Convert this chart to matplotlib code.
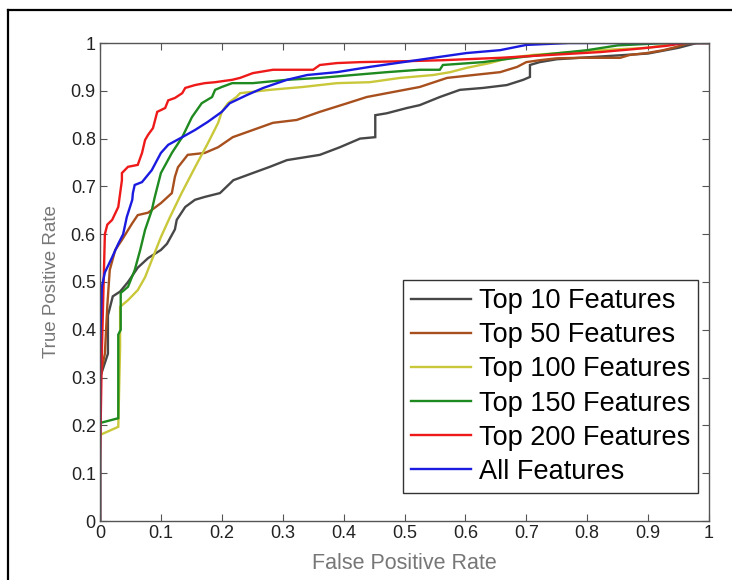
import matplotlib.pyplot as plt
from matplotlib.lines import Line2D

# --- Datos: curvas ROC ---
fpr_top10 = [0, 0, 0.013, 0.013, 0.021, 0.033, 0.046, 0.062, 0.079, 0.10, 0.11, 0.123, 0.126, 0.14,
             0.156, 0.172, 0.197, 0.219, 0.251, 0.279, 0.307, 0.361, 0.394, 0.427, 0.452, 0.452, 0.471,
             0.504, 0.525, 0.558, 0.591, 0.629, 0.668, 0.695, 0.706, 0.706, 0.722, 0.75, 0.8, 0.9,
             0.95, 0.98, 1]
tpr_top10 = [0, 0.3, 0.35, 0.43, 0.47, 0.48, 0.50, 0.53, 0.55, 0.567, 0.58, 0.61, 0.63, 0.657,
             0.672, 0.678, 0.686, 0.713, 0.728, 0.741, 0.755, 0.766, 0.782, 0.80, 0.803, 0.849, 0.853,
             0.864, 0.87, 0.887, 0.902, 0.906, 0.912, 0.923, 0.929, 0.954, 0.96, 0.966, 0.97, 0.978,
             0.99, 1, 1]

fpr_top50 = [0, 0, 0.008, 0.012, 0.016, 0.025, 0.036, 0.053, 0.062, 0.079, 0.10, 0.118, 0.123,
             0.128, 0.144, 0.172, 0.194, 0.218, 0.251, 0.284, 0.323, 0.361, 0.406, 0.438, 0.471,
             0.525, 0.57, 0.613, 0.657, 0.685, 0.70, 0.722, 0.75, 0.788, 0.854, 0.87, 0.898, 0.925,
             0.947, 0.957, 0.97, 1]
tpr_top50 = [0, 0.3, 0.35, 0.45, 0.525, 0.567, 0.588, 0.623, 0.64, 0.645, 0.665, 0.686, 0.72,
             0.74, 0.766, 0.77, 0.782, 0.803, 0.818, 0.833, 0.839, 0.856, 0.874, 0.887, 0.895,
             0.908, 0.927, 0.933, 0.939, 0.95, 0.96, 0.964, 0.968, 0.969, 0.969, 0.975, 0.979, 0.985,
             0.992, 0.996, 1, 1]

fpr_top100 = [0, 0, 0.03, 0.033, 0.033, 0.046, 0.062, 0.074, 0.087, 0.10, 0.115, 0.134, 0.156,
              0.177, 0.194, 0.20, 0.21, 0.224, 0.23, 0.279, 0.333, 0.389, 0.443, 0.493, 0.547, 0.575,
              0.602, 0.64, 0.673, 0.711, 0.766, 0.821, 0.9, 0.95, 1]
tpr_top100 = [0, 0.18, 0.197, 0.364, 0.448, 0.462, 0.483, 0.51, 0.552, 0.594, 0.636, 0.686, 0.74,
              0.79, 0.833, 0.856, 0.874, 0.887, 0.895, 0.902, 0.908, 0.916, 0.918, 0.927, 0.933, 0.939,
              0.948, 0.958, 0.969, 0.975, 0.98, 0.985, 0.99, 1, 1]

fpr_top150 = [0, 0, 0.03, 0.03, 0.034, 0.034, 0.046, 0.057, 0.066, 0.074, 0.085, 0.09, 0.10, 0.118,
              0.135, 0.151, 0.167, 0.184, 0.189, 0.20, 0.217, 0.251, 0.307, 0.361, 0.415, 0.471,
              0.525, 0.558, 0.563, 0.629, 0.695, 0.739, 0.80, 0.85, 0.93, 1]
tpr_top150 = [0, 0.205, 0.215, 0.39, 0.40, 0.477, 0.49, 0.525, 0.567, 0.609, 0.65, 0.678, 0.728,
              0.77, 0.803, 0.845, 0.874, 0.887, 0.902, 0.908, 0.916, 0.916, 0.923, 0.927, 0.933,
              0.939, 0.944, 0.944, 0.954, 0.96, 0.971, 0.977, 0.985, 0.995, 1, 1]

fpr_top200 = [0, 0, 0.003, 0.008, 0.012, 0.02, 0.03, 0.036, 0.036, 0.046, 0.062, 0.069, 0.074, 0.079,
              0.087, 0.094, 0.107, 0.112, 0.123, 0.135, 0.14, 0.156, 0.172, 0.189, 0.217, 0.23,
              0.251, 0.284, 0.35, 0.361, 0.389, 0.427, 0.504, 0.563, 0.657, 0.739, 0.821, 0.875,
              0.93, 0.96, 1]
tpr_top200 = [0, 0.12, 0.35, 0.6, 0.62, 0.63, 0.657, 0.713, 0.728, 0.741, 0.745, 0.77, 0.797, 0.808,
              0.822, 0.856, 0.864, 0.88, 0.885, 0.895, 0.906, 0.912, 0.916, 0.918, 0.923, 0.927,
              0.937, 0.944, 0.944, 0.954, 0.958, 0.96, 0.962, 0.964, 0.969, 0.975, 0.981, 0.987,
              0.994, 1, 1]

fpr_all = [0, 0, 0.003, 0.008, 0.02, 0.03, 0.038, 0.044, 0.053, 0.054, 0.057, 0.069, 0.085, 0.10,
           0.112, 0.135, 0.156, 0.177, 0.20, 0.213, 0.241, 0.268, 0.307, 0.34, 0.389, 0.443, 0.498,
           0.547, 0.602, 0.657, 0.70, 0.77, 1]
tpr_all = [0, 0.35, 0.49, 0.52, 0.552, 0.58, 0.60, 0.636, 0.672, 0.686, 0.703, 0.709, 0.734, 0.77,
           0.787, 0.803, 0.818, 0.835, 0.856, 0.874, 0.891, 0.906, 0.923, 0.933, 0.939, 0.95, 0.96,
           0.969, 0.979, 0.985, 0.996, 1, 1]

etiquetas = ['Top 10 Features', 'Top 50 Features', 'Top 100 Features',
             'Top 150 Features', 'Top 200 Features', 'All Features']
colores = ['#474747', '#a84f1e', '#c9c83a', '#1f8a1f', '#ee1a1a', '#1a1ae0']
ticks = [0, 0.1, 0.2, 0.3, 0.4, 0.5, 0.6, 0.7, 0.8, 0.9, 1]
tick_labels = ['0', '0.1', '0.2', '0.3', '0.4', '0.5', '0.6', '0.7', '0.8', '0.9', '1']

curvas = [(fpr_top10, tpr_top10), (fpr_top50, tpr_top50), (fpr_top100, tpr_top100),
          (fpr_top150, tpr_top150), (fpr_top200, tpr_top200), (fpr_all, tpr_all)]

plt.rcParams['font.family'] = ['Liberation Sans', 'DejaVu Sans']

fig = plt.figure(figsize=(7.32, 5.80), dpi=100)
ax = fig.add_axes([100 / 732, 59 / 580, 609 / 732, 478 / 580])

# marco exterior (izquierda y arriba)
fig.add_artist(Line2D([8 / 732, 8 / 732], [0, 1 - 10 / 580], transform=fig.transFigure,
                      color='black', lw=1.6))
fig.add_artist(Line2D([8 / 732, 1], [1 - 10 / 580, 1 - 10 / 580], transform=fig.transFigure,
                      color='black', lw=1.6))

for (x, y), lab, col in zip(curvas, etiquetas, colores):
    ax.plot(x, y, color=col, lw=1.7, label=lab, solid_joinstyle='miter')

ax.set_xlim(0, 1)
ax.set_ylim(0, 1)
ax.set_xticks(ticks)
ax.set_xticklabels(tick_labels)
ax.set_yticks(ticks)
ax.set_yticklabels(tick_labels)
ax.tick_params(direction='in', length=5, width=0.8, top=True, right=True,
               labelsize=13, colors='#555555', labelcolor='#222222', pad=3)
for s in ax.spines.values():
    s.set_color('#555555')
    s.set_linewidth(1.0)

ax.set_xlabel('False Positive Rate', fontsize=15.5, color='#777777', labelpad=8)
ax.set_ylabel('True Positive Rate', fontsize=13.5, color='#777777', labelpad=8)

leg = ax.legend(loc='upper left', bbox_to_anchor=(403 / 732, 1 - 280 / 580),
                bbox_transform=fig.transFigure, borderaxespad=0, fontsize=19.5,
                fancybox=False, framealpha=1, edgecolor='#333333', handlelength=2.2,
                handletextpad=0.3, labelspacing=0.3, borderpad=0.3)
leg.get_frame().set_linewidth(1.0)

fig.savefig('out.png', dpi=100)
